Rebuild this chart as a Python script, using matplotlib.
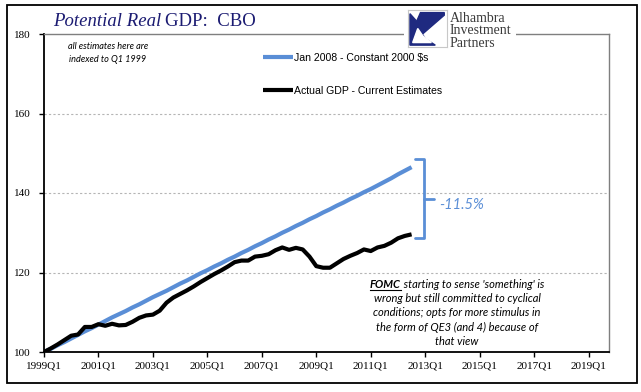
import matplotlib.pyplot as plt
from matplotlib.patches import Rectangle, Polygon
from matplotlib.lines import Line2D

# quarterly categories, 1999Q1 .. 2019Q4
quarters = [f"{y}Q{q}" for y in range(1999, 2020) for q in range(1, 5)]
tick_labels = ["1999Q1", "2001Q1", "2003Q1", "2005Q1", "2007Q1", "2009Q1",
               "2011Q1", "2013Q1", "2015Q1", "2017Q1", "2019Q1"]

# CBO potential real GDP (Jan 2008), indexed to 1999Q1 = 100
potential = [100.0, 100.8, 101.7, 102.5, 103.4, 104.3, 105.2, 106.0, 106.9, 107.8,
             108.7, 109.5, 110.3, 111.2, 112.0, 112.9, 113.8, 114.6, 115.4, 116.3,
             117.2, 118.0, 118.9, 119.8, 120.6, 121.5, 122.3, 123.2, 124.0, 124.9,
             125.7, 126.6, 127.4, 128.3, 129.1, 130.0, 130.8, 131.7, 132.5, 133.4,
             134.2, 135.1, 135.9, 136.8, 137.6, 138.5, 139.3, 140.2, 141.0, 141.9,
             142.8, 143.7, 144.7, 145.6, 146.5]

# actual real GDP, current estimates, indexed to 1999Q1 = 100
actual = [100.0, 100.9, 101.9, 103.0, 104.1, 104.4, 106.3, 106.3, 107.0, 106.6,
          107.1, 106.7, 106.8, 107.6, 108.6, 109.2, 109.4, 110.4, 112.4, 113.7,
          114.6, 115.5, 116.5, 117.6, 118.6, 119.6, 120.5, 121.5, 122.6, 123.0,
          123.0, 124.0, 124.2, 124.6, 125.6, 126.3, 125.7, 126.2, 125.8, 124.0,
          121.6, 121.2, 121.2, 122.3, 123.4, 124.2, 124.9, 125.8, 125.4, 126.3,
          126.7, 127.5, 128.6, 129.2, 129.6]

gap_label = "-11.5%"

blue = "#5A8ED6"
navy = "#1B1B72"
serif = "Liberation Serif"
calib = "Lato"

W, H = 641, 392
fig = plt.figure(figsize=(W / 100, H / 100), dpi=100)

# outer frame
fig.patches.append(Rectangle((7 / W, 1 - 383 / H), 630 / W, 378 / H, transform=fig.transFigure,
                             fill=False, edgecolor="black", linewidth=1.3))

ax = fig.add_axes([44 / W, 1 - 352 / H, 565 / W, 318 / H])
ax.plot(range(len(potential)), potential, color=blue, lw=3.0, solid_capstyle="butt",
        label="Jan 2008 - Constant 2000 $s")
ax.plot(range(len(actual)), actual, color="black", lw=3.0, solid_capstyle="butt",
        label="Actual GDP - Current Estimates")

ax.set_xlim(0, len(quarters) - 1)
ax.set_ylim(100, 180)
ax.set_yticks([100, 120, 140, 160, 180])
ax.set_xticks([quarters.index(t) for t in tick_labels])
ax.set_xticklabels(tick_labels)
for lab in ax.get_xticklabels() + ax.get_yticklabels():
    lab.set_fontfamily(serif)
    lab.set_fontsize(8)
ax.tick_params(axis="both", direction="out", length=3.5, width=1, color="black")
ax.tick_params(axis="y", pad=6)
ax.tick_params(axis="x", pad=3)
for y in [120, 140, 160]:
    ax.axhline(y, color="#b5b5b5", lw=0.8, ls=(0, (2, 2)), zorder=0)
for side in ["left", "bottom"]:
    ax.spines[side].set_color("black")
    ax.spines[side].set_linewidth(1.3)
for side in ["top", "right"]:
    ax.spines[side].set_color("#7f7f7f")
    ax.spines[side].set_linewidth(1.0)

# legend
leg = ax.legend(loc="upper left", bbox_to_anchor=(263 / W, 1 - 53 / H), bbox_transform=fig.transFigure,
                frameon=False, fontsize=7.6, handlelength=2.8, handletextpad=0.1,
                labelspacing=2.15, borderaxespad=0, borderpad=0)
for t in leg.get_texts():
    t.set_fontfamily("Liberation Sans")

# bracket showing the gap at the last point
n = len(actual) - 1
top = potential[-1] + 2.0
bot = actual[-1] - 1.0
mid = (top + bot) / 2
xv = n + 1.8
ax.plot([n + 0.5, xv, xv, n + 0.5], [top, top, bot, bot], color=blue, lw=2, solid_capstyle="round",
        solid_joinstyle="round", clip_on=False)
ax.plot([xv, xv + 1.5], [mid, mid], color=blue, lw=2, solid_capstyle="round")
ax.text(n + 4.0, mid - 1.5, gap_label, color=blue, fontsize=10.5, style="italic",
        fontfamily=calib, va="center", ha="left")

fig.canvas.draw()
r = fig.canvas.get_renderer()

# title
tt1 = fig.text(53 / W, 1 - 22 / H, "Potential Real", fontfamily=serif, style="italic", fontsize=13.5,
               color=navy, va="center", ha="left")
wt = tt1.get_window_extent(r).width
fig.text((53 + wt + 4) / W, 1 - 22 / H, "GDP:  CBO", fontfamily=serif, fontsize=13.5,
         color=navy, va="center", ha="left")

# note
fig.text(108 / W, 1 - 53 / H, "all estimates here are\nindexed to Q1 1999", fontfamily=calib,
         style="italic", fontsize=6.6, ha="center", va="center", linespacing=1.55)

# commentary
cx = 457 / W
lines = ["wrong but still committed to cyclical",
         "conditions; opts for more stimulus in",
         "the form of QE3 (and 4) because of",
         "that view"]
y0 = 1 - 284 / H
t1 = fig.text(0, y0, "FOMC", fontfamily=calib, style="italic", weight="bold", fontsize=8,
              va="center", ha="left")
t2 = fig.text(0, y0, " starting to sense 'something' is", fontfamily=calib, style="italic",
              fontsize=8, va="center", ha="left")
w1 = t1.get_window_extent(r).width / W
w2 = t2.get_window_extent(r).width / W
x0 = cx - (w1 + w2) / 2
t1.set_x(x0)
t2.set_x(x0 + w1)
fig.lines.append(Line2D([x0, x0 + w1], [y0 - 6 / H, y0 - 6 / H], transform=fig.transFigure,
                        color="black", lw=0.8))
for i, s in enumerate(lines):
    fig.text(cx, 1 - (298 + 14.6 * i) / H, s, fontfamily=calib, style="italic", fontsize=8,
             ha="center", va="center")

# logo
fig.patches.append(Rectangle((404 / W, 1 - 49 / H), 112 / W, 43 / H, transform=fig.transFigure,
                             facecolor="white", edgecolor="none", zorder=2))
lax = fig.add_axes([408 / W, 1 - 47 / H, 39 / W, 37 / H])
lax.set_zorder(3)
lax.set_xlim(0, 1)
lax.set_ylim(0, 1)
lax.set_xticks([])
lax.set_yticks([])
for s in lax.spines.values():
    s.set_color("#c8c8c8")
    s.set_linewidth(0.8)
lax.add_patch(Polygon([(0.32, 0.93), (0.93, 0.93), (0.93, 0.86), (0.12, 0.12), (0.12, 0.45)],
                      closed=True, color="#1f2a80"))
lax.add_patch(Polygon([(0.05, 0.05), (0.7, 0.05), (0.45, 0.22), (0.3, 0.45), (0.22, 0.7), (0.05, 0.9)],
                      closed=True, color="#1f2a80"))
lax.add_patch(Polygon([(0.12, 0.12), (0.6, 0.12), (0.38, 0.3), (0.25, 0.5)], closed=True, color="white"))
for i, s in enumerate(["Alhambra", "Investment", "Partners"]):
    fig.text(450 / W, 1 - (18 + 12.8 * i) / H, s, fontfamily=serif, fontsize=10, color="#3a3a3a",
             ha="left", va="center", zorder=4)

fig.savefig("out.png", dpi=100)
